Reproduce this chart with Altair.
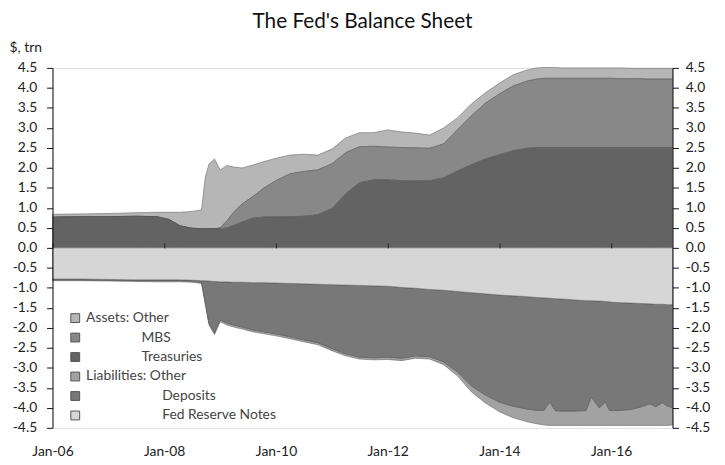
import altair as alt
import pandas as pd

# ---------------- data (trillions of $) ----------------
dates = [
    "2006/01/01", "2006/07/01", "2007/01/01", "2007/07/01", "2007/11/15", "2008/02/01",
    "2008/04/15", "2008/07/01", "2008/09/01", "2008/09/25", "2008/10/20", "2008/11/25",
    "2009/01/01", "2009/02/15", "2009/04/01", "2009/05/25", "2009/08/01", "2009/10/15",
    "2010/01/01", "2010/04/01", "2010/07/01", "2010/10/01", "2011/01/01", "2011/04/01",
    "2011/07/01", "2011/10/01", "2012/01/01", "2012/04/01", "2012/07/01", "2012/10/01",
    "2013/01/01", "2013/04/01", "2013/07/01", "2013/10/01", "2014/01/01", "2014/04/01",
    "2014/07/01", "2014/09/01", "2014/10/20", "2014/11/25", "2015/01/01", "2015/02/15",
    "2015/05/01", "2015/07/20", "2015/08/25", "2015/10/15", "2015/11/25", "2015/12/20",
    "2016/01/10", "2016/03/01", "2016/05/10", "2016/07/01", "2016/09/10", "2016/10/20",
    "2016/12/01", "2017/01/01", "2017/02/05",
]

treasuries = [
    0.77, 0.78, 0.78, 0.79, 0.78, 0.71, 0.55, 0.49, 0.48, 0.48, 0.48, 0.48,
    0.48, 0.50, 0.56, 0.65, 0.74, 0.77, 0.78, 0.78, 0.79, 0.83, 0.98, 1.35,
    1.63, 1.70, 1.70, 1.68, 1.68, 1.68, 1.75, 1.92, 2.08, 2.22, 2.33, 2.43,
    2.49, 2.51, 2.51, 2.51, 2.51, 2.51, 2.51, 2.51, 2.51, 2.51, 2.51, 2.51,
    2.51, 2.51, 2.51, 2.51, 2.51, 2.51, 2.51, 2.51, 2.51,
]
mbs = [
    0.00, 0.00, 0.00, 0.00, 0.00, 0.00, 0.00, 0.00, 0.00, 0.00, 0.00, 0.00,
    0.02, 0.18, 0.34, 0.45, 0.54, 0.73, 0.90, 1.07, 1.12, 1.12, 1.12, 1.03,
    0.90, 0.84, 0.82, 0.83, 0.82, 0.81, 0.85, 1.03, 1.22, 1.40, 1.52, 1.62,
    1.68, 1.71, 1.73, 1.73, 1.73, 1.73, 1.73, 1.73, 1.73, 1.73, 1.73, 1.73,
    1.73, 1.72, 1.72, 1.72, 1.71, 1.71, 1.71, 1.71, 1.71,
]
assets_other = [
    0.07, 0.07, 0.08, 0.09, 0.11, 0.18, 0.34, 0.42, 0.47, 1.27, 1.62, 1.74,
    1.45, 1.38, 1.12, 0.90, 0.79, 0.66, 0.56, 0.47, 0.43, 0.37, 0.37, 0.37,
    0.35, 0.34, 0.43, 0.39, 0.37, 0.33, 0.40, 0.30, 0.30, 0.26, 0.27, 0.28,
    0.28, 0.28, 0.27, 0.27, 0.27, 0.26, 0.26, 0.26, 0.26, 0.26, 0.26, 0.26,
    0.26, 0.27, 0.26, 0.26, 0.27, 0.27, 0.27, 0.27, 0.27,
]
fed_reserve_notes = [
    -0.78, -0.78, -0.79, -0.80, -0.80, -0.80, -0.80, -0.81, -0.82, -0.82, -0.83, -0.84,
    -0.85, -0.85, -0.86, -0.86, -0.87, -0.87, -0.88, -0.89, -0.90, -0.91, -0.92, -0.93,
    -0.94, -0.95, -0.96, -0.99, -1.01, -1.04, -1.06, -1.09, -1.12, -1.15, -1.18, -1.20,
    -1.22, -1.24, -1.25, -1.26, -1.27, -1.28, -1.30, -1.32, -1.32, -1.33, -1.34, -1.35,
    -1.36, -1.37, -1.38, -1.39, -1.40, -1.41, -1.41, -1.42, -1.42,
]
deposits = [
    -0.02, -0.02, -0.02, -0.02, -0.02, -0.02, -0.02, -0.02, -0.04, -0.53, -1.05, -1.28,
    -0.95, -1.03, -1.07, -1.12, -1.18, -1.23, -1.27, -1.33, -1.40, -1.46, -1.60, -1.72,
    -1.79, -1.80, -1.77, -1.77, -1.69, -1.68, -1.79, -2.01, -2.33, -2.53, -2.68, -2.76,
    -2.81, -2.82, -2.81, -2.59, -2.80, -2.80, -2.78, -2.75, -2.41, -2.67, -2.51, -2.71,
    -2.71, -2.69, -2.66, -2.60, -2.50, -2.56, -2.46, -2.53, -2.58,
]
liabilities_other = [
    -0.02, -0.02, -0.02, -0.02, -0.03, -0.03, -0.03, -0.03, -0.03, -0.05, -0.05, -0.05,
    -0.05, -0.05, -0.05, -0.05, -0.05, -0.05, -0.05, -0.05, -0.05, -0.05, -0.05, -0.05,
    -0.05, -0.05, -0.06, -0.06, -0.06, -0.06, -0.07, -0.10, -0.15, -0.20, -0.24, -0.29,
    -0.32, -0.34, -0.37, -0.59, -0.37, -0.36, -0.36, -0.37, -0.71, -0.44, -0.59, -0.38,
    -0.37, -0.38, -0.40, -0.45, -0.54, -0.47, -0.57, -0.49, -0.43,
]

# legend labels, indented as in the original (zero-width space + en spaces)
zw = "\u200b"
en = "\u2002"
series_names = ["Assets: Other", zw + en * 8 + "MBS", zw + en * 8 + "Treasuries",
                "Liabilities: Other", zw + en * 11 + "Deposits",
                zw + en * 11 + "Fed Reserve Notes"]
series_values = [assets_other, mbs, treasuries,
                 liabilities_other, deposits, fed_reserve_notes]
series_colors = ["#b6b6b6", "#888888", "#636363", "#a2a2a2", "#787878", "#d6d6d6"]
# stacking position away from zero (1 = nearest the zero line)
stack_pos = [3, 2, 1, 3, 2, 1]

y_ticks = [-4.5, -4.0, -3.5, -3.0, -2.5, -2.0, -1.5, -1.0, -0.5, 0.0,
           0.5, 1.0, 1.5, 2.0, 2.5, 3.0, 3.5, 4.0, 4.5]
x_tick_years = [2006, 2008, 2010, 2012, 2014, 2016]

rows = []
for name, vals, pos in zip(series_names, series_values, stack_pos):
    for d, v in zip(dates, vals):
        rows.append({"date": d, "series": name, "value": v, "pos": pos})
df = pd.DataFrame(rows)

FONT = "Lato"
x_values = [alt.DateTime(year=y, month=1, date=1) for y in x_tick_years]
x_scale = alt.Scale(domain=[alt.DateTime(year=2006, month=1, date=1),
                            alt.DateTime(year=2017, month=2, date=5)])
y_scale = alt.Scale(domain=[-4.5, 4.5], nice=False, zero=False)
y_label_expr = "(datum.value < 0 ? '-' : '') + format(abs(datum.value), '.1f')"

areas = alt.Chart(df).mark_area(interpolate="linear", stroke="#4d4d4d",
                                strokeWidth=0.6, strokeOpacity=0.8).encode(
    x=alt.X("date:T", scale=x_scale,
            axis=alt.Axis(values=x_values, format="%b-%y", title=None, grid=False,
                          ticks=False, domain=False, labelPadding=17, labelFont=FONT,
                          labelFontSize=14, labelColor="#222", labelFlush=False,
                          labelOverlap=False)),
    y=alt.Y("value:Q", stack="zero", scale=y_scale,
            axis=alt.Axis(values=y_ticks, labelExpr=y_label_expr, grid=False,
                          title="$, trn", titleAngle=0, titleAlign="left",
                          titleBaseline="middle", titleX=-44, titleY=-21,
                          titleFont=FONT, titleFontSize=14, titleFontWeight="normal",
                          titleColor="#222",
                          labelFont=FONT, labelFontSize=14, labelColor="#222",
                          tickSize=6, tickColor="#111", domainColor="#111",
                          labelPadding=10, zindex=1)),
    color=alt.Color("series:N",
                    scale=alt.Scale(domain=series_names, range=series_colors),
                    legend=alt.Legend(orient="none", legendX=16, legendY=246, title=None,
                                      symbolType="square", symbolSize=80,
                                      symbolStrokeColor="#555", symbolStrokeWidth=1,
                                      labelFont=FONT, labelFontSize=14, labelColor="#444",
                                      labelOffset=4, rowPadding=5.7, labelLimit=300,
                                      padding=0)),
    order=alt.Order("pos:Q"),
)

ghost = alt.Chart(df).mark_line(opacity=0).encode(
    x=alt.X("date:T", scale=x_scale,
            axis=alt.Axis(values=x_values, labels=False, title=None, grid=False,
                          domain=False, ticks=True, tickSize=5, tickColor="#222",
                          offset=-182, zindex=1)),
    y=alt.Y("value:Q", scale=y_scale,
            axis=alt.Axis(orient="right", values=y_ticks, labelExpr=y_label_expr,
                          grid=False, title=None, labelFont=FONT, labelFontSize=14,
                          labelColor="#222", tickSize=6, tickColor="#111",
                          domainColor="#111", labelPadding=7, zindex=1)),
    detail="series:N",
)

chart = alt.layer(areas, ghost).resolve_axis(
    x="independent", y="independent"
).properties(
    width=627, height=364,
    title=alt.TitleParams("The Fed's Balance Sheet", font=FONT, fontSize=21,
                          fontWeight="normal", color="#111", anchor="middle",
                          offset=8),
    autosize=alt.AutoSizeParams(type="none"),
    padding={"left": 45, "top": 58, "right": 45, "bottom": 35},
).configure_view(stroke=None).configure(background="white")

chart.save("out.html", embed_options={"renderer": "svg", "actions": False})
